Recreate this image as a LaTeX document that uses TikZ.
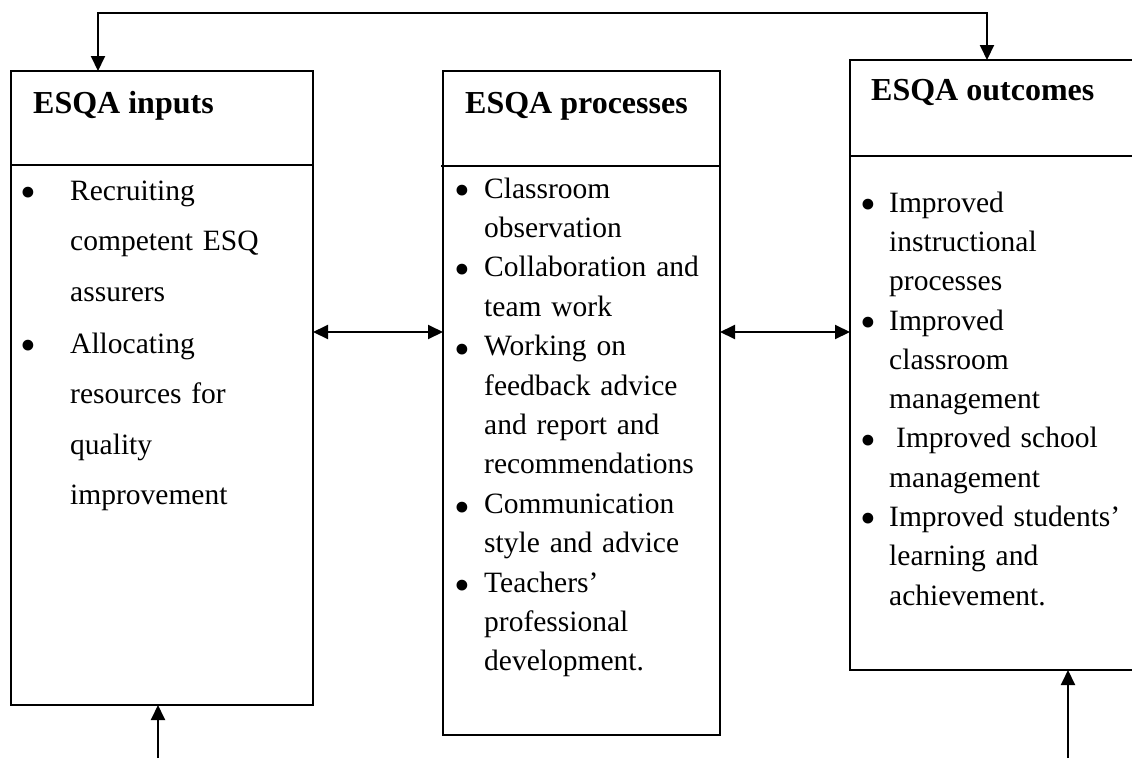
\documentclass[tikz,border=0pt]{standalone}
\usepackage{fontspec}
\setmainfont{Liberation Serif}
\usetikzlibrary{arrows.meta}

\tikzset{
  box/.style={draw, line width=2pt, rectangle, anchor=north west, inner sep=0pt, outer sep=0pt},
  head/.style={anchor=base west, inner sep=0pt, font=\fontsize{32}{38}\selectfont\bfseries},
  bul/.style={anchor=base, inner sep=0pt, font=\fontsize{45}{50}\selectfont},
  item/.style={anchor=north west, inner sep=0pt, align=left, text width=250pt, font=\fontsize{29.5}{39.4}\selectfont},
  wideitem/.style={item, font=\fontsize{29.5}{50.5}\selectfont},
  link/.style={line width=2pt, -{Triangle[length=15pt,width=14pt]}},
  twolink/.style={line width=2pt, {Triangle[length=15pt,width=14pt]}-{Triangle[length=15pt,width=14pt]}},
}

\begin{document}
\begin{tikzpicture}[x=1pt, y=-1pt]
    \clip (0,0) rectangle (1132,758);
    % Boxes
    \node[box, minimum width=302pt, minimum height=634pt] (inputs) at (11,71) {};
    \node[box, minimum width=277pt, minimum height=664pt] (processes) at (443,71) {};
    \node[box, minimum width=330pt, minimum height=610pt] (outcomes) at (850,60) {};
    % Dividers under the headings
    \coordinate (d1) at (0,165);
    \coordinate (d2) at (0,166);
    \coordinate (d3) at (0,156);
    \draw[line width=2pt] (inputs.west |- d1) -- (inputs.east |- d1);
    \draw[line width=2pt] ([xshift=-2pt]processes.west |- d2) -- (processes.east |- d2);
    \draw[line width=2pt] (outcomes.west |- d3) -- (outcomes.east |- d3);
    % Headings
    \node[head] (tin) at (33,113) {ESQA inputs};
    \node[head] (tpro) at (465,113) {ESQA processes};
    \node[head] (tout) at (871,100) {ESQA outcomes};
    % Bullets (set a little below the text baseline)
    \foreach \x/\y [count=\i] in {28/207, 28/360,
        462/205, 462/284, 462/364, 462/522, 462/600,
        868/219, 868/337, 868/455, 868/533}
      \node[bul] (bul\i) at (\x,\y) {\textbullet};
    % Inputs
    \node[wideitem] (in1) at (70,164.65) {\strut Recruiting\\competent ESQ\\assurers};
    \node[wideitem] (in2) at (70,317.65) {\strut Allocating\\resources for\\quality\\improvement};
    % Processes
    \node[item] (pro1) at (484,170.4) {\strut Classroom\\observation};
    \node[item] (pro2) at (484,249.2) {\strut Collaboration and\\team work};
    \node[item] (pro3) at (484,328) {\strut Working on\\feedback advice\\and report and\\recommendations};
    \node[item] (pro4) at (484,485.6) {\strut Communication\\style and advice};
    \node[item] (pro5) at (484,564.4) {\strut Teachers’\\professional\\development.};
    % Outcomes
    \node[item] (out1) at (889,184.4) {\strut Improved\\instructional\\processes};
    \node[item] (out2) at (889,302.3) {\strut Improved\\classroom\\management};
    \node[item] (out3) at (889,420.2) {\strut\hspace{7pt}Improved school\\management};
    \node[item] (out4) at (889,498.8) {\strut Improved students’\\learning and\\achievement.};
    % Feedback loop on top
    \coordinate (fbl) at (98,13);
    \coordinate (fbr) at (987,13);
    \draw[twolink] (inputs.north -| fbl) -- (fbl) -- (fbr) -- (outcomes.north -| fbr);
    % Links between the boxes
    \coordinate (mid) at (0,332);
    \draw[twolink] (inputs.east |- mid) -- (processes.west |- mid);
    \draw[twolink] (processes.east |- mid) -- (outcomes.west |- mid);
    % Arrows coming in from below
    \coordinate (srcl) at (158,758);
    \coordinate (srcr) at (1068,758);
    \draw[link] (srcl) -- (srcl |- inputs.south);
    \draw[link] (srcr) -- (srcr |- outcomes.south);
\end{tikzpicture}
\end{document}
